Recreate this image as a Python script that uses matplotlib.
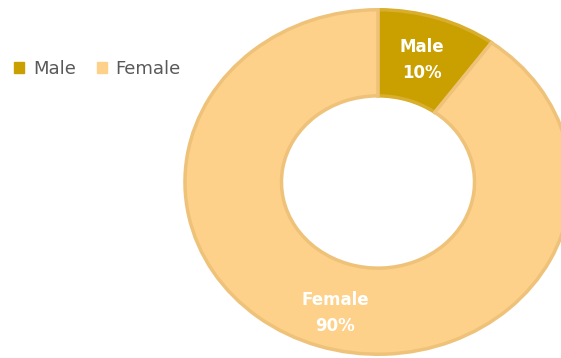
import matplotlib
matplotlib.use("Agg")
import matplotlib.pyplot as plt
from matplotlib.patches import Patch

categories = ["Male", "Female"]
values = [10, 90]
colors = ["#C9A000", "#FDD189"]
edge_colors = ["#D8AE2C", "#EFC27A"]

W, H = 561, 358
fig = plt.figure(figsize=(W / 100, H / 100), dpi=100)
cx, cy, rx, ry = 378, 182, 195, 174
ax = fig.add_axes([(cx - rx) / W, (H - cy - ry) / H, 2 * rx / W, 2 * ry / H])

wedges, _ = ax.pie(values, colors=colors, startangle=90, counterclock=False,
                   radius=0.99, wedgeprops=dict(width=0.495, linewidth=2.5))
for w, ec in zip(wedges, edge_colors):
    w.set_edgecolor(ec)
ax.set_xlim(-1, 1)
ax.set_ylim(-1, 1)
ax.set_aspect("auto")
ax.axis("off")

label_pos = [((422 - cx) / rx, (cy - 60) / ry), ((335 - cx) / rx, (cy - 313) / ry)]
for cat, val, (x, y) in zip(categories, values, label_pos):
    ax.text(x, y, f"{cat}\n{val}%", ha="center", va="center", color="white",
            fontsize=12, fontweight="bold", linespacing=1.55)

handles = [Patch(facecolor=c, edgecolor=c) for c in colors]
fig.legend(handles, categories, loc="center left", bbox_to_anchor=(-0.004, 1 - 69 / H),
           ncol=2, frameon=False, fontsize=13, handlelength=0.55, handleheight=0.55,
           handletextpad=0.5, columnspacing=1.15, labelcolor="#595959")

fig.savefig("out.png", dpi=100)
